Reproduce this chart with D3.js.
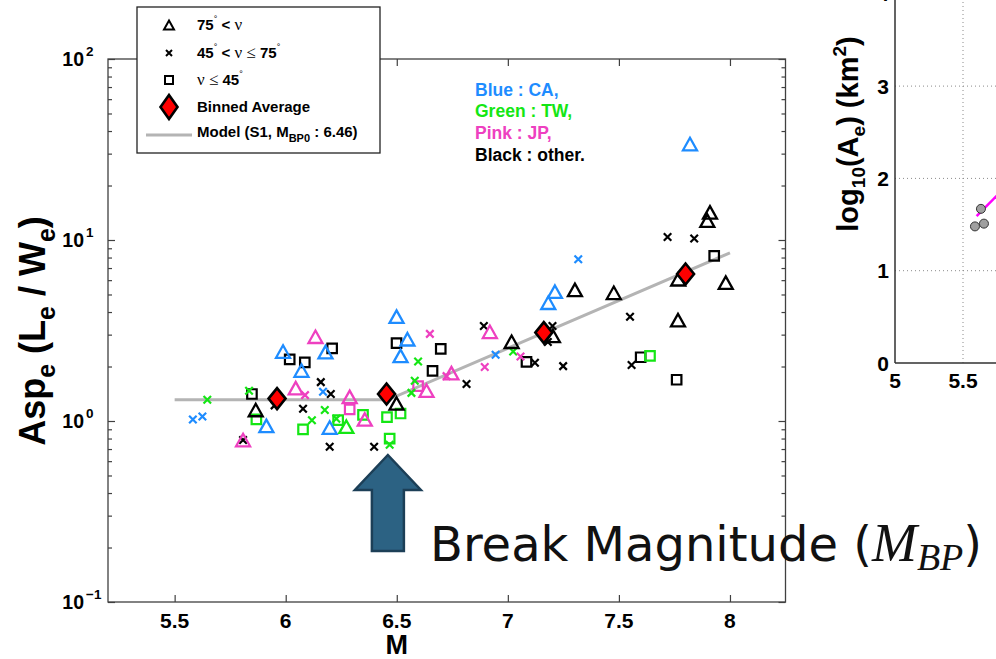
<!DOCTYPE html>
<html><head><meta charset="utf-8">
<script src="https://cdn.jsdelivr.net/npm/d3@7"></script>
<style>
body{margin:0;background:#fff}
svg{display:block}
</style>
</head><body>
<svg id="c" width="996" height="659" font-family="'Liberation Sans',Arial,Helvetica,sans-serif" font-weight="bold"></svg>
<script>
// ---------------- DATA ----------------
// Triangles: 75° < ν
const triM   = [5.913,5.988,6.071,6.179,6.198,6.499,6.548,6.517,7.212,7.182,7.820,
                5.808,6.045,6.134,6.288,6.356,6.634,6.746,6.919,
                6.273,
                5.865,6.499,7.017,7.203,7.302,7.477,7.766,7.910,7.898,7.767,7.981];
const triAsp = [0.94,2.42,1.90,2.40,0.92,3.77,2.83,2.29,5.18,4.50,33.9,
                0.785,1.52,2.92,1.36,1.02,1.47,1.84,3.11,
                0.93,
                1.15,1.25,2.74,2.95,5.30,5.11,3.61,14.2,12.8,6.07,5.81];
const triRegion = ["CA","CA","CA","CA","CA","CA","CA","CA","CA","CA","CA",
                "JP","JP","JP","JP","JP","JP","JP","JP",
                "TW",
                "other","other","other","other","other","other","other","other","other","other","other"];
// Crosses: 45° < ν ≤ 75°
const crossM   = [5.582,5.625,6.168,6.945,7.317,
                  5.647,5.835,6.118,6.176,6.228,6.596,6.468,6.581,6.566,7.024,
                  6.087,6.649,6.724,6.896,7.057,
                  5.808,5.95,6.078,6.158,6.203,6.198,6.398,6.814,6.892,7.122,7.249,7.550,7.557,7.719,7.839,7.201,7.18];
const crossAsp = [1.02,1.06,1.45,2.32,7.82,
                  1.31,1.47,1.01,1.15,1.03,2.13,0.74,1.67,1.43,2.42,
                  1.39,3.03,1.77,1.99,2.27,
                  0.785,1.22,1.17,1.64,1.41,0.72,0.72,1.60,3.35,2.10,2.01,3.77,2.04,10.4,10.2,3.35,2.73];
const crossRegion = ["CA","CA","CA","CA","CA",
                  "TW","TW","TW","TW","TW","TW","TW","TW","TW","TW",
                  "JP","JP","JP","JP","JP",
                  "other","other","other","other","other","other","other","other","other","other","other","other","other","other","other","other","other"];
// Squares: ν ≤ 45°
const sqM   = [5.848,6.018,6.086,6.209,6.499,6.698,6.661,7.084,7.598,7.760,7.929,
               5.868,6.078,6.348,6.236,6.456,6.517,6.468,7.640,
               6.288,6.596];
const sqAsp = [1.41,2.19,2.11,2.52,2.69,2.50,1.89,2.12,2.25,1.69,8.17,
               1.02,0.90,1.08,1.01,1.05,1.10,0.80,2.29,
               1.16,1.56];
const sqRegion = ["other","other","other","other","other","other","other","other","other","other","other",
               "TW","TW","TW","TW","TW","TW","TW","TW",
               "JP","JP"];
// Binned average
const binM   = [5.961, 6.454, 7.162, 7.80];
const binAsp = [1.33, 1.41, 3.08, 6.49];
// Model (S1, M_BP0 : 6.46)
const modelM   = [5.5, 6.46, 8.0];
const modelAsp = [1.31, 1.31, 8.5];
const breakMag = 6.46;
// Axis ticks
const xTicks = [5.5, 6, 6.5, 7, 7.5, 8];
const xTickLabels = ["5.5","6","6.5","7","7.5","8"];
const yDecades = [0.1, 1, 10, 100];
const yExponents = ["\u22121","0","1","2"];
// Right panel (partially visible)
const rightM = [5.588, 5.632, 5.654];
const rightLogA = [1.48, 1.67, 1.51];
const rightLineM = [5.6, 6.2];
const rightLineLogA = [1.59, 2.49];
const rightXTicks = [5, 5.5];
const rightXTickLabels = ["5", "5.5"];
const rightYTicks = [0, 1, 2, 3, 4];

const regionColor = {CA:"#1e8cff", TW:"#14e614", JP:"#ee40c0", other:"#000000"};

// ---------------- SCALES ----------------
const svg = d3.select("#c");
const xL = d3.scaleLinear().domain([5.2, 8.25]).range([108, 785.5]);
const yL = d3.scaleLog().domain([0.1, 100]).range([602, 59]);
const xR = d3.scaleLinear().domain([5, 6]).range([895, 1031]);
const yR = d3.scaleLinear().domain([0, 4]).range([363, -6.2]);

// ---------------- SHAPES ----------------
function triPath(w, h){ return `M0,${-h/2}L${w/2},${h/2}L${-w/2},${h/2}Z`; }
function sqPath(s){ return `M${-s/2},${-s/2}h${s}v${s}h${-s}Z`; }
function crossPath(s){ return `M${-s/2},${-s/2}L${s/2},${s/2}M${s/2},${-s/2}L${-s/2},${s/2}`; }
function diaPath(w, h){ return `M0,${-h/2}L${w/2},0L0,${h/2}L${-w/2},0Z`; }

// ---------------- LEFT PLOT ----------------
const left = svg.append("g");
const axisCol = "#404040";
left.append("rect").attr("x", xL.range()[0]).attr("y", yL.range()[1])
  .attr("width", xL.range()[1]-xL.range()[0]).attr("height", yL.range()[0]-yL.range()[1])
  .attr("fill", "none").attr("stroke", axisCol).attr("stroke-width", 1.3);

const minorVals = [];
yDecades.forEach(d => { if (d < 100) for (let k=2;k<=9;k++) minorVals.push(d*k); });

function styleAxis(g){ g.select(".domain").remove(); g.selectAll("line").attr("stroke", axisCol).attr("stroke-width", 1.2); g.selectAll("text").remove(); }
left.append("g").attr("transform", `translate(${xL.range()[0]},0)`).call(d3.axisLeft(yL).tickValues(yDecades).tickSize(-7)).call(styleAxis);
left.append("g").attr("transform", `translate(${xL.range()[0]},0)`).call(d3.axisLeft(yL).tickValues(minorVals).tickSize(-4)).call(styleAxis);
left.append("g").attr("transform", `translate(${xL.range()[1]},0)`).call(d3.axisRight(yL).tickValues(yDecades).tickSize(-7)).call(styleAxis);
left.append("g").attr("transform", `translate(${xL.range()[1]},0)`).call(d3.axisRight(yL).tickValues(minorVals).tickSize(-4)).call(styleAxis);
left.append("g").attr("transform", `translate(0,${yL.range()[0]})`).call(d3.axisBottom(xL).tickValues(xTicks).tickSize(-7)).call(styleAxis);
left.append("g").attr("transform", `translate(0,${yL.range()[1]})`).call(d3.axisTop(xL).tickValues(xTicks).tickSize(-7)).call(styleAxis);

left.selectAll(".xtl").data(xTicks).enter().append("text")
  .attr("x", d => xL(d)).attr("y", 628).attr("text-anchor", "middle")
  .attr("font-size", 21).text((d,i) => xTickLabels[i]);
yDecades.forEach((d,i) => {
  left.append("text").attr("x", 84).attr("y", yL(d) + 7).attr("font-size", 19.5).attr("text-anchor","end").text("10");
  left.append("text").attr("x", 86).attr("y", yL(d) - 3).attr("font-size", 13.5).text(yExponents[i]);
});
left.append("text").attr("x", xL(6.5)).attr("y", 654).attr("text-anchor","middle").attr("font-size", 27).text("M");
const yt = left.append("text").attr("transform", "translate(45,331) rotate(-90)").attr("text-anchor","middle").attr("font-size", 36);
yt.append("tspan").text("Asp");
yt.append("tspan").attr("font-size", 25).attr("dy", 10).text("e");
yt.append("tspan").attr("dy", -10).text(" (L");
yt.append("tspan").attr("font-size", 25).attr("dy", 10).text("e");
yt.append("tspan").attr("dy", -10).text(" / W");
yt.append("tspan").attr("font-size", 25).attr("dy", 10).text("e");
yt.append("tspan").attr("dy", -10).text(")");

// model line
const modelData = modelM.map((m,i) => [m, modelAsp[i]]);
left.append("path").datum(modelData)
  .attr("d", d3.line().x(d => xL(d[0])).y(d => yL(d[1])))
  .attr("fill","none").attr("stroke","#b4b4b4").attr("stroke-width", 3);

// markers
const pts = left.append("g");
const order = ["other","CA","TW","JP"];
function drawSet(Ms, As, Rs, kind){
  const data = Ms.map((m,i) => ({m, a:As[i], r:Rs[i]}))
    .sort((p,q) => order.indexOf(p.r) - order.indexOf(q.r));
  const sel = pts.selectAll(null).data(data).enter().append("path")
    .attr("transform", d => `translate(${xL(d.m)},${yL(d.a)})`)
    .attr("fill","none").attr("stroke", d => regionColor[d.r]);
  if (kind === "tri") sel.attr("d", triPath(14, 12.5)).attr("stroke-width", 2.3);
  if (kind === "sq") sel.attr("d", sqPath(9.5)).attr("stroke-width", 2.2);
  if (kind === "x") sel.attr("d", crossPath(7.5)).attr("stroke-width", 2.2);
}
drawSet(sqM, sqAsp, sqRegion, "sq");
drawSet(crossM, crossAsp, crossRegion, "x");
drawSet(triM, triAsp, triRegion, "tri");

pts.selectAll(".bin").data(binM.map((m,i)=>[m,binAsp[i]])).enter().append("path")
  .attr("transform", d => `translate(${xL(d[0])},${yL(d[1])})`)
  .attr("d", diaPath(17, 21)).attr("fill","#ff0000").attr("stroke","#000").attr("stroke-width", 2.6);

// ---------------- LEGEND ----------------
const lg = svg.append("g");
lg.append("rect").attr("x",137).attr("y",7).attr("width",243).attr("height",146)
  .attr("fill","#fff").attr("stroke","#222").attr("stroke-width",1.3);
const lx = 169, tx = 197;
lg.append("path").attr("transform",`translate(${lx},25)`).attr("d",triPath(10,9)).attr("fill","none").attr("stroke","#000").attr("stroke-width",2);
lg.append("path").attr("transform",`translate(${lx},53)`).attr("d",crossPath(6)).attr("fill","none").attr("stroke","#000").attr("stroke-width",2);
lg.append("path").attr("transform",`translate(${lx},80)`).attr("d",sqPath(8)).attr("fill","none").attr("stroke","#000").attr("stroke-width",2);
lg.append("path").attr("transform",`translate(${lx},107)`).attr("d",diaPath(17,24)).attr("fill","#ff0000").attr("stroke","#000").attr("stroke-width",2.6);
lg.append("line").attr("x1",146).attr("x2",192).attr("y1",135).attr("y2",135).attr("stroke","#b4b4b4").attr("stroke-width",3);

const fs = 15;
function serif(t){ return t.style("font-family","'Liberation Serif','Times New Roman',serif").style("font-weight","normal"); }
function deg(t){ return t.append("tspan").attr("font-size",9).attr("dy",-8).style("font-weight","normal").text("\u00b0"); }
let t1 = lg.append("text").attr("x",tx).attr("y",30).attr("font-size",fs);
t1.append("tspan").text("75"); deg(t1);
t1.append("tspan").attr("dy",8).text(" < ");
serif(t1.append("tspan")).attr("font-size",17).text("\u03bd");

let t2 = lg.append("text").attr("x",tx).attr("y",58).attr("font-size",fs);
t2.append("tspan").text("45"); deg(t2);
t2.append("tspan").attr("dy",8).text(" < ");
serif(t2.append("tspan")).attr("font-size",17).text("\u03bd \u2264 ");
t2.append("tspan").text("75"); deg(t2);

let t3 = lg.append("text").attr("x",tx).attr("y",85).attr("font-size",fs);
serif(t3.append("tspan")).attr("font-size",17).text("\u03bd \u2264 ");
t3.append("tspan").text("45"); deg(t3);

lg.append("text").attr("x",tx).attr("y",112).attr("font-size",fs).text("Binned Average");
let t5 = lg.append("text").attr("x",tx).attr("y",137).attr("font-size",fs);
t5.append("tspan").text("Model (S1, M");
t5.append("tspan").attr("font-size",11).attr("dy",5).text("BP0");
t5.append("tspan").attr("dy",-5).text(" : 6.46)");

const keyTexts = ["Blue : CA,", "Green : TW,", "Pink : JP,", "Black : other."];
const keyCols = [regionColor.CA, regionColor.TW, regionColor.JP, regionColor.other];
svg.selectAll(".key").data(keyTexts).enter().append("text")
  .attr("x", 475).attr("y", (d,i) => 95.5 + i*21.9).attr("font-size", 17.5)
  .attr("fill", (d,i) => keyCols[i]).text(d => d);

// ---------------- RIGHT PANEL ----------------
const rp = svg.append("g");
const gridCol = "#8a8a8a";
rp.selectAll(".gx").data([5.5, 6]).enter().append("line")
  .attr("x1", d=>xR(d)).attr("x2", d=>xR(d)).attr("y1", yR(0)).attr("y2", yR(4))
  .attr("stroke", gridCol).attr("stroke-width",1).attr("stroke-dasharray","1,3");
rp.selectAll(".gy").data([1,2,3]).enter().append("line")
  .attr("x1", xR(5)).attr("x2", 996).attr("y1", d=>yR(d)).attr("y2", d=>yR(d))
  .attr("stroke", gridCol).attr("stroke-width",1).attr("stroke-dasharray","1,3");
rp.append("line").attr("x1",xR(5)).attr("x2",xR(5)).attr("y1",yR(0)).attr("y2",yR(4)).attr("stroke","#303030").attr("stroke-width",1.5);
rp.append("line").attr("x1",xR(5)).attr("x2",996).attr("y1",yR(0)).attr("y2",yR(0)).attr("stroke","#303030").attr("stroke-width",1.5);
rp.selectAll(".ryl").data(rightYTicks).enter().append("text")
  .attr("x", 889).attr("y", d => yR(d) + 7.5).attr("text-anchor","end").attr("font-size",21).text(d => d);
rp.selectAll(".rxl").data(rightXTicks).enter().append("text")
  .attr("x", d => xR(d)).attr("y", 388).attr("text-anchor","middle").attr("font-size",21).text((d,i)=>rightXTickLabels[i]);
const ryt = rp.append("text").attr("transform","translate(858,134) rotate(-90)").attr("text-anchor","middle").attr("font-size",29);
ryt.append("tspan").text("log");
ryt.append("tspan").attr("font-size",19).attr("dy",7).text("10");
ryt.append("tspan").attr("dy",-7).text("(A");
ryt.append("tspan").attr("font-size",19).attr("dy",7).text("e");
ryt.append("tspan").attr("dy",-7).text(") (km");
ryt.append("tspan").attr("font-size",19).attr("dy",-12).text("2");
ryt.append("tspan").attr("dy",12).text(")");
rp.append("path").datum(rightLineM.map((m,i)=>[m,rightLineLogA[i]]))
  .attr("d", d3.line().x(d=>xR(d[0])).y(d=>yR(d[1])))
  .attr("stroke","#ff00ff").attr("stroke-width",2.5).attr("fill","none");
rp.selectAll(".rc").data(rightM.map((m,i)=>[m,rightLogA[i]])).enter().append("circle")
  .attr("cx", d=>xR(d[0])).attr("cy", d=>yR(d[1])).attr("r",4.5)
  .attr("fill","#a0a0a0").attr("stroke","#333").attr("stroke-width",1);

// ---------------- ANNOTATION ----------------
const ax = xL(breakMag);
const arrowPts = [[0,455],[33,490],[16,490],[16,551],[-16,551],[-16,490],[-33,490]];
svg.append("path").attr("d", "M" + arrowPts.map(p => `${ax+p[0]},${p[1]}`).join("L") + "Z")
  .attr("fill","#2c6283").attr("stroke","#1c3f57").attr("stroke-width",2.5);
const bt = svg.append("text").attr("x", 430).attr("y", 561).attr("font-size", 48)
  .style("font-family","'DejaVu Sans',sans-serif").style("font-weight","normal").attr("fill","#111");
bt.append("tspan").text("Break Magnitude (");
bt.append("tspan").style("font-family","'Liberation Serif',serif").style("font-style","italic").attr("font-size",54).text("M");
bt.append("tspan").style("font-family","'Liberation Serif',serif").style("font-style","italic").attr("font-size",38).attr("dy",9).text("BP");
bt.append("tspan").attr("dy",-9).text(")");
</script>
</body></html>
